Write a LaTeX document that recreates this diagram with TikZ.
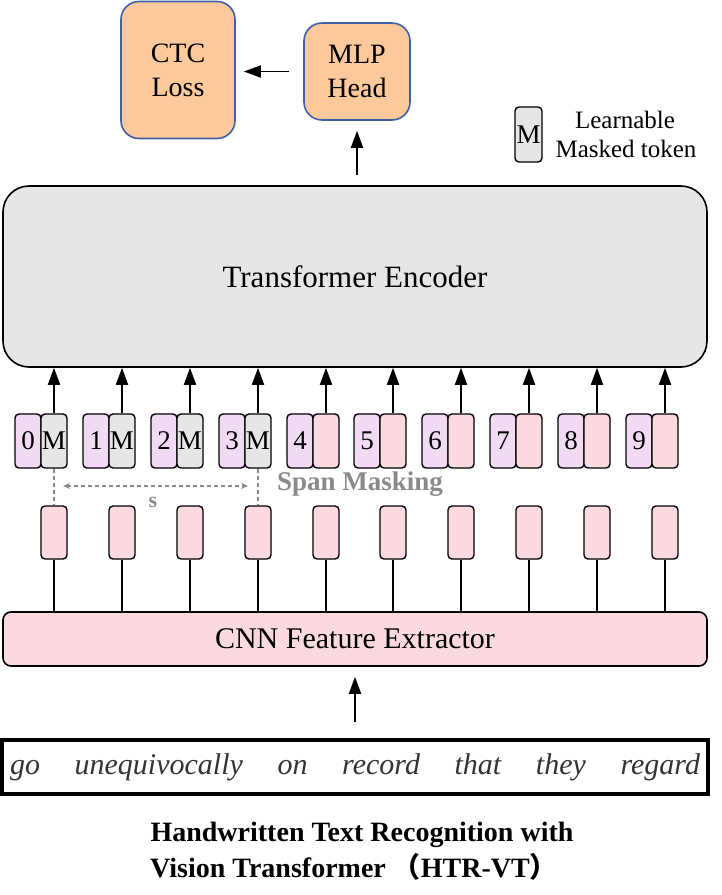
\documentclass[tikz,border=0pt]{standalone}
\usepackage{fontspec}
\setmainfont{Liberation Serif}
\newfontfamily\cjk{Noto Sans CJK SC}
\usetikzlibrary{arrows.meta}
\definecolor{peach}{HTML}{FBC99B}
\definecolor{bluebd}{HTML}{3F5FA6}
\definecolor{encgray}{HTML}{E6E6E6}
\definecolor{lav}{HTML}{F0DBF3}
\definecolor{pinkk}{HTML}{FAD9DF}
\definecolor{spangray}{HTML}{8A8A8A}
\definecolor{inkgray}{HTML}{333333}
\begin{document}
\begin{tikzpicture}[x=1pt,y=-1pt,
  headbox/.style={draw=bluebd, line width=1.6pt, fill=peach, rounded corners=18pt,
    align=center, inner sep=0pt, font=\fontsize{28}{34}\selectfont},
  bigbox/.style={draw, line width=1.6pt, inner sep=0pt, minimum width=704pt},
  tok/.style={draw, line width=1.4pt, rounded corners=4pt, minimum width=26pt,
    minimum height=54pt, inner sep=0pt, font=\fontsize{27}{27}\selectfont},
  btok/.style={tok, fill=pinkk, minimum height=53pt},
  arr/.style={line width=1.8pt, -{Triangle[width=12pt,length=17pt]}},
  plain/.style={line width=1.8pt},
  spandash/.style={draw=spangray, line width=1.5pt, dash pattern=on 4pt off 3pt},
  legendtxt/.style={anchor=base, font=\fontsize{25}{25}\selectfont}
]
\useasboundingbox (0,0) rectangle (722,895);

% head boxes
\node[headbox, minimum width=114pt, minimum height=137pt] (ctc) at (178,70) {CTC\\Loss};
\node[headbox, minimum width=106pt, minimum height=97pt] (mlp) at (357,71.5) {MLP\\Head};
\draw[arr, shorten <=14pt, shorten >=8pt] (mlp.west) -- (ctc.east |- mlp.west);

% legend
\node[tok, fill=encgray, minimum width=27pt, minimum height=55pt] (legm) at (528.5,134.5) {M};
\node[legendtxt] (leg1) at (625,128) {Learnable};
\node[legendtxt] (leg2) at (626,157) {Masked token};

% encoder
\node[bigbox, fill=encgray, rounded corners=26pt, minimum height=181pt,
  font=\fontsize{31}{36}\selectfont] (enc) at (355,276.5) {Transformer Encoder};
\draw[arr, shorten <=10pt, shorten >=10pt] (enc.north -| mlp.south) -- (mlp.south);

% CNN
\node[bigbox, fill=pinkk, rounded corners=8pt, minimum height=54pt,
  font=\fontsize{30}{36}\selectfont] (cnn) at (355,639) {CNN Feature Extractor};

% tokens
\foreach \i in {0,...,9}{
  \pgfmathsetmacro{\xx}{round(54+67.9*\i)}
  \node[tok, fill=lav] (p\i) at (\xx-26,441) {\i};
  \ifnum\i<4
    \node[tok, fill=encgray] (t\i) at (\xx,441) {M};
  \else
    \node[tok, fill=pinkk] (t\i) at (\xx,441) {};
  \fi
  \draw[arr] (t\i.north) -- (enc.south -| t\i.north);
  \node[btok] (b\i) at (\xx,532.5) {};
  \draw[plain] (b\i.south) -- (cnn.north -| b\i.south);
}

% span masking
\draw[spandash] (t0.south) -- (b0.north);
\draw[spandash] (t3.south) -- (b3.north);
\coordinate (sa) at (63,486);
\coordinate (sb) at (248,486);
\draw[spandash, {Stealth[length=7pt,width=6pt]}-{Stealth[length=7pt,width=6pt]}] (sa) -- (sb);
\node[anchor=base, text=spangray, font=\bfseries\fontsize{22}{22}\selectfont] (slab) at (153,507) {s};
\node[anchor=base, text=spangray, font=\bfseries\fontsize{27}{27}\selectfont] (span) at (360,490) {Span Masking};

% input image
\node[draw, line width=3.5pt, minimum width=706pt, minimum height=54pt, inner sep=0pt,
  text=inkgray, font=\itshape\fontsize{30}{30}\selectfont] (img) at (355,767)
  {\makebox[690pt][s]{go\hfil unequivocally\hfil on\hfil record\hfil that\hfil they\hfil regard}};
\draw[arr, shorten <=16pt, shorten >=10pt] (img.north) -- (cnn.south);

% caption
\node[anchor=base, font=\bfseries\fontsize{28}{28}\selectfont] (cap1) at (362,841) {Handwritten Text Recognition with};
\node[anchor=base, font=\bfseries\fontsize{28}{28}\selectfont] (cap2) at (354,877) {Vision Transformer {\cjk （}HTR-VT{\cjk ）}};
\end{tikzpicture}
\end{document}
